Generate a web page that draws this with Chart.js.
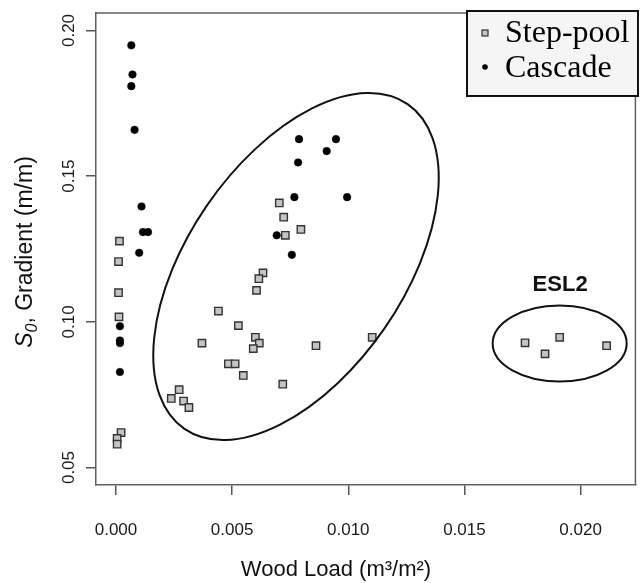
<!DOCTYPE html>
<html><head><meta charset="utf-8">
<script src="https://cdn.jsdelivr.net/npm/chart.js@4.4.0/dist/chart.umd.min.js"></script>
<style>html,body{margin:0;padding:0;background:#fff;}canvas{display:block;}</style>
</head><body>
<canvas id="c" width="642" height="583"></canvas>
<script>
// ---- data ----
const seriesNames = ['Step-pool', 'Cascade'];
const stepPoolX = [0.00015,0.00011,0.00011,0.00013,0.00022,0.00005,0.00005,
  0.00703,0.00722,0.00796,0.00729,0.00633,0.00615,0.00605,0.00441,0.00527,0.00600,0.00617,0.00591,
  0.00370,0.00861,0.01103,0.00484,0.00513,0.00548,0.00718,0.00272,0.00238,0.00291,0.00314,
  0.01761,0.01847,0.01910,0.02112];
const stepPoolY = [0.1277,0.1207,0.1100,0.1017,0.0620,0.0600,0.0580,
  0.1408,0.1359,0.1317,0.1297,0.1168,0.1148,0.1108,0.1037,0.0987,0.0947,0.0927,0.0908,
  0.0927,0.0918,0.0947,0.0856,0.0856,0.0816,0.0786,0.0767,0.0737,0.0728,0.0706,
  0.0928,0.0890,0.0947,0.0918];
const cascadeX = [0.00066,0.00071,0.00066,0.00080,0.00110,0.00116,0.00138,0.00100,
  0.00017,0.00017,0.00017,0.00017,
  0.00788,0.00947,0.00907,0.00784,0.00768,0.00995,0.00692,0.00757];
const cascadeY = [0.1949,0.1849,0.1809,0.1659,0.1396,0.1308,0.1308,0.1237,
  0.0985,0.0936,0.0927,0.0828,
  0.1627,0.1627,0.1586,0.1547,0.1428,0.1428,0.1297,0.1230];
const xTickValues = [0, 0.005, 0.010, 0.015, 0.020];
const xTickLabels = ['0.000', '0.005', '0.010', '0.015', '0.020'];
const yTickValues = [0.05, 0.10, 0.15, 0.20];
const yTickLabels = ['0.05', '0.10', '0.15', '0.20'];
const xRange = [-0.00086, 0.02236];
const yRange = [0.044, 0.206];
const xTitle = 'Wood Load (m\u00B3/m\u00B2)';
const yTitleS = 'S', yTitleSub = '0', yTitleRest = ', Gradient (m/m)';
const groupLabel = 'ESL2';
const groupLabelAt = {x: 0.01912, y: 0.11264};
// ellipse annotations: centre in data units
const ellipseCentres = [{x: 0.00775, y: 0.11899}, {x: 0.01910, y: 0.09256}];

// ---- styles ----
const SANS = '"Liberation Sans", Arial, Helvetica, sans-serif';
const SERIF = '"Liberation Serif", "Times New Roman", serif';
const ellipseShapes = [{rx: 197, ry: 108, rot: -55.5}, {rx: 67, ry: 38, rot: 0}];

const overlay = {
  id: 'overlay',
  beforeDatasetsDraw(chart) {
    const {ctx, chartArea: a} = chart;
    ctx.save();
    ctx.strokeStyle = '#606060'; ctx.lineWidth = 1.5;
    ctx.beginPath(); ctx.moveTo(a.left, a.top); ctx.lineTo(a.right, a.top); ctx.lineTo(a.right, a.bottom); ctx.stroke();
    ctx.restore();
  },
  afterDatasetsDraw(chart) {
    const {ctx, scales: {x, y}} = chart;
    ctx.save();
    ctx.strokeStyle = '#111'; ctx.lineWidth = 2;
    ellipseCentres.forEach((c, i) => {
      const s = ellipseShapes[i];
      ctx.beginPath();
      ctx.ellipse(x.getPixelForValue(c.x), y.getPixelForValue(c.y), s.rx, s.ry, s.rot * Math.PI / 180, 0, 2 * Math.PI);
      ctx.stroke();
    });
    ctx.fillStyle = '#111'; ctx.font = 'bold 22px ' + SANS;
    ctx.textAlign = 'center'; ctx.textBaseline = 'middle';
    ctx.fillText(groupLabel, x.getPixelForValue(groupLabelAt.x), y.getPixelForValue(groupLabelAt.y));
    ctx.restore();
  },
  afterDraw(chart) {
    const {ctx} = chart;
    ctx.save();
    // legend
    ctx.fillStyle = '#f5f5f5'; ctx.fillRect(467, 11, 171, 85);
    ctx.strokeStyle = '#111'; ctx.lineWidth = 2; ctx.strokeRect(467, 11, 171, 85);
    ctx.fillStyle = '#c4c4c4'; ctx.fillRect(482, 30, 6, 6);
    ctx.strokeStyle = '#333'; ctx.lineWidth = 1.2; ctx.strokeRect(482, 30, 6, 6);
    ctx.fillStyle = '#000'; ctx.beginPath(); ctx.arc(485, 67, 2.8, 0, 2 * Math.PI); ctx.fill();
    ctx.fillStyle = '#000'; ctx.font = '32px ' + SERIF; ctx.textAlign = 'left'; ctx.textBaseline = 'alphabetic';
    ctx.fillText(seriesNames[0], 505, 42);
    ctx.fillText(seriesNames[1], 505, 77);
    // x title
    ctx.fillStyle = '#111';
    ctx.font = '22px ' + SANS; ctx.textAlign = 'center';
    ctx.fillText(xTitle, 336, 576);
    // y title
    ctx.translate(24, 252); ctx.rotate(-Math.PI / 2);
    ctx.textAlign = 'left';
    const fS = 'italic 23px ' + SANS, f0 = 'italic 16px ' + SANS, fR = '23px ' + SANS;
    ctx.font = fS; const wS = ctx.measureText(yTitleS).width;
    ctx.font = f0; const w0 = ctx.measureText(yTitleSub).width;
    ctx.font = fR; const wR = ctx.measureText(yTitleRest).width;
    const start = -(wS + w0 + wR) / 2;
    ctx.font = fS; ctx.fillText(yTitleS, start, 8);
    ctx.font = f0; ctx.fillText(yTitleSub, start + wS, 13);
    ctx.font = fR; ctx.fillText(yTitleRest, start + wS + w0, 8);
    ctx.restore();
  }
};

const tickFont = {family: SANS, size: 17};
new Chart(document.getElementById('c'), {
  type: 'scatter',
  data: {datasets: [
    {label: seriesNames[0], data: stepPoolX.map((v, i) => ({x: v, y: stepPoolY[i]})),
     pointStyle: 'rect', pointRadius: 5.2, pointHoverRadius: 5.2, backgroundColor: '#c4c4c4', borderColor: '#333', borderWidth: 1.4},
    {label: seriesNames[1], data: cascadeX.map((v, i) => ({x: v, y: cascadeY[i]})),
     pointStyle: 'circle', pointRadius: 3.8, pointHoverRadius: 3.8, backgroundColor: '#000', borderColor: '#000', borderWidth: 0.5}
  ]},
  options: {
    responsive: false, animation: false, devicePixelRatio: 1, events: [],
    layout: {padding: {top: 13, right: 6, left: 0, bottom: 0}},
    plugins: {legend: {display: false}, tooltip: {enabled: false}},
    scales: {
      x: {type: 'linear', position: 'bottom', min: xRange[0], max: xRange[1],
        afterBuildTicks: s => { s.ticks = xTickValues.map(v => ({value: v})); },
        afterFit: s => { s.height = 98; s.paddingLeft = 0; s.paddingRight = 0; },
        ticks: {autoSkip: false, maxRotation: 0, minRotation: 0, padding: 25, color: '#1a1a1a', font: tickFont,
          callback: (v, i) => xTickLabels[i]},
        grid: {drawOnChartArea: false, drawTicks: true, tickLength: 10, color: '#555', lineWidth: 1.5},
        border: {display: true, color: '#606060', width: 1.5}
      },
      y: {type: 'linear', position: 'left', min: yRange[0], max: yRange[1],
        afterBuildTicks: s => { s.ticks = yTickValues.map(v => ({value: v})); },
        afterFit: s => { s.width = 96; s.paddingTop = 0; s.paddingBottom = 0; },
        ticks: {autoSkip: false, minRotation: 90, maxRotation: 90, crossAlign: 'center', padding: 0, color: '#1a1a1a', font: tickFont,
          callback: (v, i) => yTickLabels[i]},
        grid: {drawOnChartArea: false, drawTicks: true, tickLength: 10, color: '#555', lineWidth: 1.5},
        border: {display: true, color: '#606060', width: 1.5}
      }
    }
  },
  plugins: [overlay]
});
</script>
</body></html>
